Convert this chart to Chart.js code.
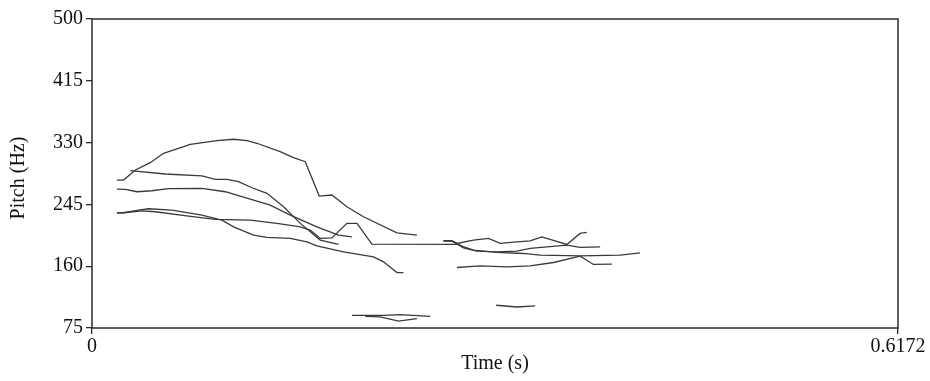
<!DOCTYPE html>
<html lang="en">
<head>
    <meta charset="UTF-8">
    <title>Pitch</title>
    <script src="https://cdn.jsdelivr.net/npm/chart.js@4"></script>
    <style>
        body { margin: 0; background: #fff; }
        #wrap { width: 930px; height: 381px; }
    </style>
</head>
<body>
    <div id="wrap"><canvas id="myChart" width="930" height="381"></canvas></div>
    <script>
        // axis ranges and tick labels
        const xTicks = [0, 0.6172];
        const yTicks = [75, 160, 245, 330, 415, 500];

        // pitch tracks: [time (s), pitch (Hz)]
        const trackA = [[0.0191,278.5],[0.0242,278.5],[0.0332,292.3],[0.0446,302.4],[0.0548,315.3],[0.0753,327.7],[0.0957,332.7],[0.1084,334.6],[0.1187,332.7],[0.1263,329.1],[0.1441,317.5],[0.1543,309.3],[0.1633,303.8],[0.1740,256.5],[0.1837,257.9],[0.1952,241.8],[0.2079,228],[0.2335,205.9],[0.2488,202.8]];
        const trackB = [[0.0293,291.4],[0.0561,286.8],[0.0842,284.1],[0.0944,279.5],[0.1033,279.5],[0.1122,276.2],[0.1225,267.9],[0.1340,260.2],[0.1467,241.8],[0.1595,218.9],[0.1748,195.9],[0.1888,189.9]];
        const trackC = [[0.0191,266.1],[0.0255,265.7],[0.0344,262.4],[0.0459,263.8],[0.0586,266.6],[0.0842,267.1],[0.1020,262.4],[0.1212,252.4],[0.1365,244.1],[0.1518,230.3],[0.1722,214.2],[0.1888,202.8],[0.1990,200.4]];
        const trackD = [[0.0191,233.5],[0.0242,233.5],[0.0357,237.2],[0.0433,239],[0.0612,237.2],[0.0842,230.3],[0.0995,223.4],[0.1084,214.2],[0.1237,202.8],[0.1340,199.6],[0.1518,198.2],[0.1646,193.5],[0.1722,188],[0.1926,179.7],[0.2156,172.8],[0.2232,166],[0.2335,151.3],[0.2385,151.3]];
        const trackE = [[0.0191,233.5],[0.0242,233.5],[0.0383,236.2],[0.0485,234.9],[0.0739,228.9],[0.0944,224.4],[0.1212,223.4],[0.1416,218.9],[0.1595,214.2],[0.1671,209.6],[0.1748,198.2],[0.1837,199],[0.1952,218.9],[0.2029,218.9],[0.2143,190.3],[0.2794,189.9]];
        const trackF = [[0.2692,194.9],[0.2756,194.9],[0.2794,191.3],[0.2921,195.9],[0.3036,198.2],[0.3126,191.3],[0.3253,193.5],[0.3355,194.9],[0.3445,200.4],[0.3636,189.9],[0.3738,205.1],[0.3789,206.5]];
        const trackG = [[0.2692,194.9],[0.2756,194.9],[0.2845,185.2],[0.2947,180.7],[0.3100,179.7],[0.3253,180.7],[0.3355,184.4],[0.3636,189],[0.3738,185.8],[0.3891,186.6]];
        const trackH = [[0.2692,194.9],[0.2756,194.9],[0.2832,187.6],[0.2921,182.1],[0.3100,178.9],[0.3304,177.5],[0.3432,175.2],[0.3738,174.2],[0.4044,175.2],[0.4197,178.4]];
        const trackI = [[0.2794,158.2],[0.2973,160.4],[0.3177,159.1],[0.3355,160.4],[0.3534,165.1],[0.3738,173.8],[0.3840,162.4],[0.3981,162.8]];
        const trackJ = [[0.3095,106.3],[0.3253,103.9],[0.3394,105.3]];
        const trackK = [[0.1990,92.5],[0.2232,92.5],[0.2360,93.5],[0.2590,91.1]];
        const trackL = [[0.2092,91.1],[0.2207,90.2],[0.2347,84.6],[0.2488,88]];

        const tracks = [trackA, trackB, trackC, trackD, trackE, trackF, trackG, trackH, trackI, trackJ, trackK, trackL];

        const serif = 'Liberation Serif, Times New Roman, serif';

        // box round the plot + y axis title
        const frame = {
            id: 'frame',
            afterDraw(chart) {
                const a = chart.chartArea;
                const ctx = chart.ctx;
                ctx.save();
                ctx.strokeStyle = '#2b2b2b';
                ctx.lineWidth = 1.5;
                ctx.strokeRect(a.left, a.top, a.right - a.left, a.bottom - a.top);

                ctx.translate(19, 178);
                ctx.rotate(-Math.PI / 2);
                ctx.fillStyle = '#111';
                ctx.font = '20px ' + serif;
                ctx.textAlign = 'center';
                ctx.textBaseline = 'middle';
                ctx.fillText('Pitch (Hz)', 0, 0);
                ctx.restore();
            }
        };

        new Chart(document.getElementById('myChart'), {
            type: 'line',
            data: {
                datasets: tracks.map(tr => ({
                    data: tr.map(p => ({x: p[0], y: p[1]})),
                    borderColor: '#3a3a3a',
                    borderWidth: 1.3,
                    pointRadius: 0,
                    tension: 0,
                    fill: false
                }))
            },
            options: {
                responsive: false,
                animation: false,
                layout: { padding: { left: 0, right: 32, top: 19, bottom: 0 } },
                plugins: { legend: { display: false }, tooltip: { enabled: false } },
                scales: {
                    x: {
                        type: 'linear',
                        min: 0,
                        max: 0.6172,
                        afterBuildTicks: s => { s.ticks = xTicks.map(v => ({value: v})); },
                        afterFit: s => { s.height = 53; },
                        ticks: {
                            autoSkip: false,
                            maxRotation: 0,
                            padding: 1,
                            color: '#111',
                            font: { family: serif, size: 20 },
                            callback: v => String(v)
                        },
                        grid: { drawOnChartArea: false, tickLength: 6, color: '#2b2b2b', lineWidth: 1.3 },
                        border: { display: false },
                        title: {
                            display: true,
                            text: 'Time (s)',
                            color: '#111',
                            font: { family: serif, size: 20 },
                            padding: { top: 0, bottom: 5 }
                        }
                    },
                    y: {
                        type: 'linear',
                        min: 75,
                        max: 500,
                        afterBuildTicks: s => { s.ticks = yTicks.map(v => ({value: v})); },
                        afterFit: s => { s.width = 92; },
                        ticks: {
                            autoSkip: false,
                            padding: 3,
                            color: '#111',
                            font: { family: serif, size: 20 }
                        },
                        grid: { drawOnChartArea: false, tickLength: 6, color: '#2b2b2b', lineWidth: 1.3 },
                        border: { display: false }
                    }
                }
            },
            plugins: [frame]
        });
    </script>
</body>
</html>
